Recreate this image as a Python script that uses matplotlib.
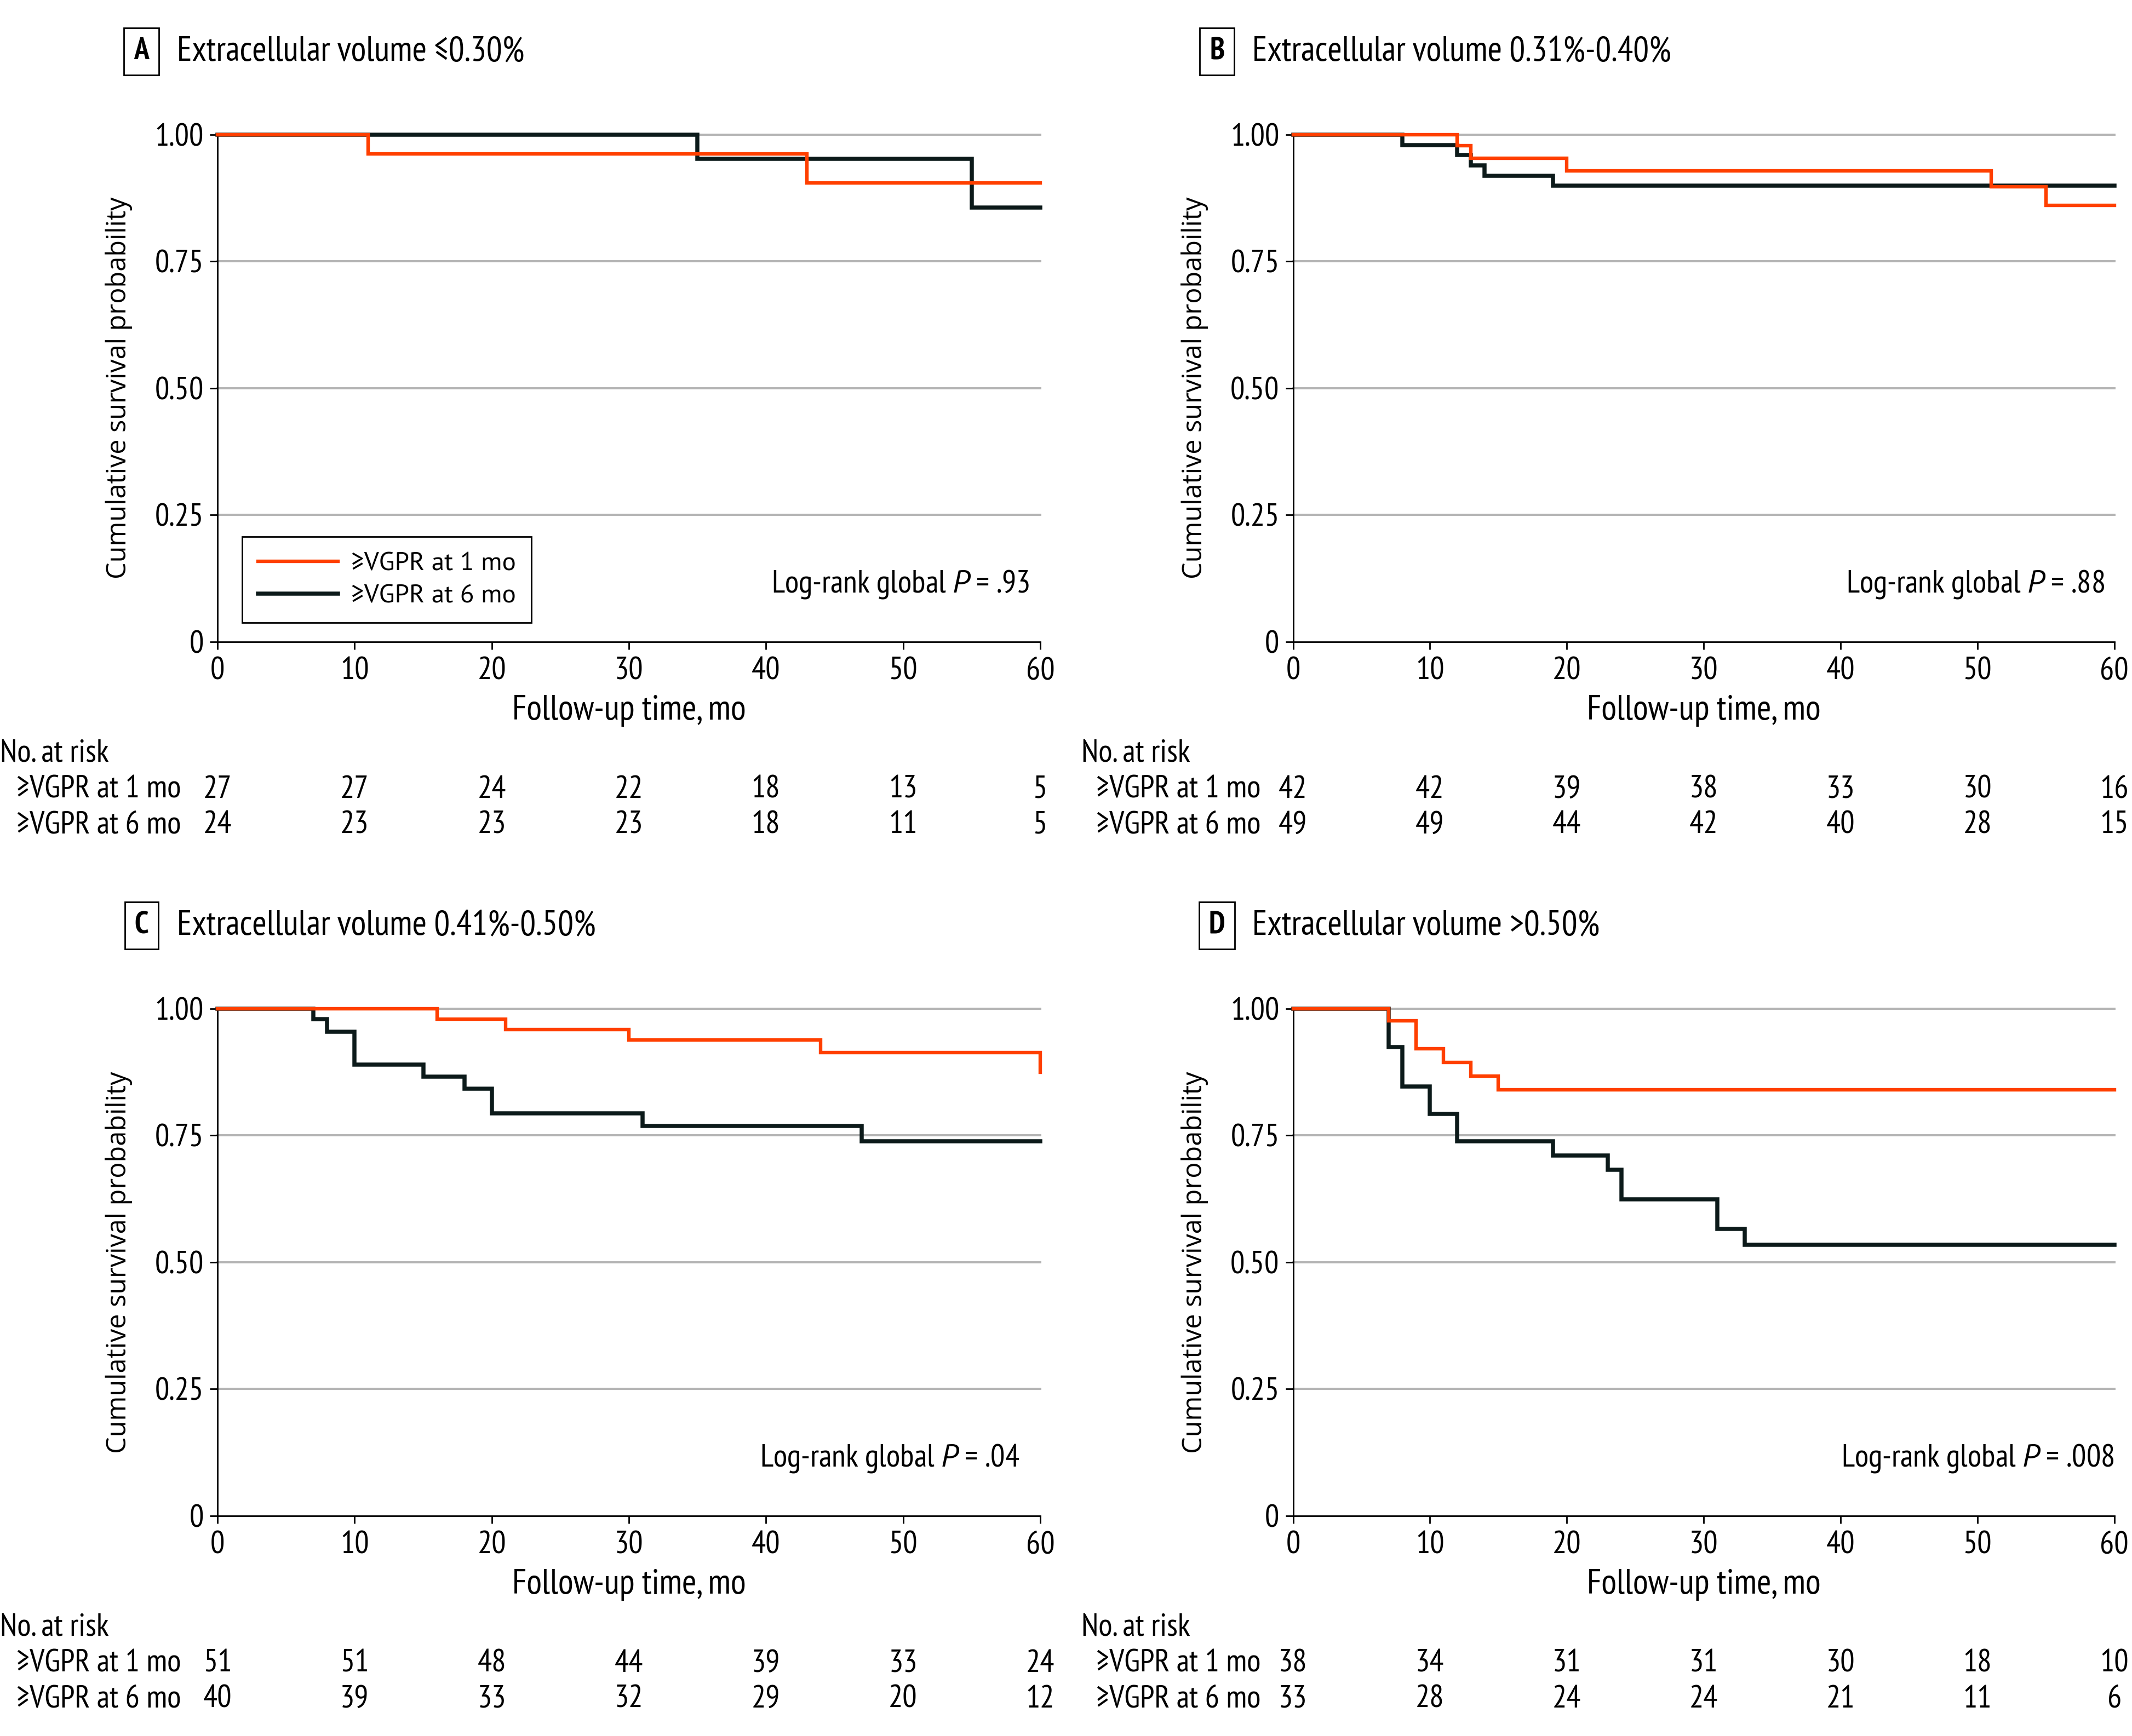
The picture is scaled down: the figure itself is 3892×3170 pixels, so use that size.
import matplotlib
matplotlib.use('Agg')
from matplotlib import pyplot as plt, rcParams

# 글꼴 설정 (좁은 글꼴)
rcParams['font.family'] = ['PT Sans Narrow', 'DejaVu Sans']
rcParams['mathtext.fontset'] = 'custom'
rcParams['mathtext.it'] = 'PT Sans:italic'
rcParams['mathtext.rm'] = 'PT Sans Narrow'

ORANGE = '#ff3f00'
BLACK = '#0c1a1a'

# 패널 정보
panel_letters = ['A', 'B', 'C', 'D']
panel_titles = ['Extracellular volume ≤0.30%', 'Extracellular volume 0.31%-0.40%',
                'Extracellular volume 0.41%-0.50%', 'Extracellular volume >0.50%']
p_values = ['.93', '.88', '.04', '.008']
series_names = ['≥VGPR at 1 mo', '≥VGPR at 6 mo']

# 생존 곡선 (step 시점, 생존확률)
a_1mo_t = [0, 11, 43, 60]
a_1mo_s = [1.0, 0.962, 0.905, 0.905]
a_6mo_t = [0, 35, 55, 60]
a_6mo_s = [1.0, 0.952, 0.856, 0.856]

b_1mo_t = [0, 12, 13, 20, 51, 55, 60]
b_1mo_s = [1.0, 0.978, 0.953, 0.928, 0.897, 0.860, 0.860]
b_6mo_t = [0, 8, 12, 13, 14, 19, 60]
b_6mo_s = [1.0, 0.979, 0.960, 0.939, 0.919, 0.899, 0.899]

c_1mo_t = [0, 16, 21, 30, 44, 60, 60]
c_1mo_s = [1.0, 0.979, 0.959, 0.938, 0.913, 0.875, 0.875]
c_6mo_t = [0, 7, 8, 10, 15, 18, 20, 31, 47, 60]
c_6mo_s = [1.0, 0.979, 0.955, 0.890, 0.866, 0.842, 0.794, 0.769, 0.739, 0.739]

d_1mo_t = [0, 7, 9, 11, 13, 15, 60]
d_1mo_s = [1.0, 0.976, 0.921, 0.894, 0.867, 0.840, 0.840]
d_6mo_t = [0, 7, 8, 10, 12, 19, 23, 24, 31, 33, 60]
d_6mo_s = [1.0, 0.924, 0.847, 0.793, 0.739, 0.711, 0.682, 0.624, 0.566, 0.534, 0.534]

curves = [
    ((a_1mo_t, a_1mo_s), (a_6mo_t, a_6mo_s)),
    ((b_1mo_t, b_1mo_s), (b_6mo_t, b_6mo_s)),
    ((c_1mo_t, c_1mo_s), (c_6mo_t, c_6mo_s)),
    ((d_1mo_t, d_1mo_s), (d_6mo_t, d_6mo_s)),
]

# 위험군 수
risk_times = [0, 10, 20, 30, 40, 50, 60]
risk_a = ([27, 27, 24, 22, 18, 13, 5], [24, 23, 23, 23, 18, 11, 5])
risk_b = ([42, 42, 39, 38, 33, 30, 16], [49, 49, 44, 42, 40, 28, 15])
risk_c = ([51, 51, 48, 44, 39, 33, 24], [40, 39, 33, 32, 29, 20, 12])
risk_d = ([38, 34, 31, 31, 30, 18, 10], [33, 28, 24, 24, 21, 11, 6])
risks = [risk_a, risk_b, risk_c, risk_d]

y_ticks = [0, 0.25, 0.5, 0.75, 1.0]
y_tick_labels = ['0', '0.25', '0.50', '0.75', '1.00']

fig = plt.figure(figsize=(19.46, 15.85), dpi=200)

W, H = 1568, 1277
boxes = [(160, 765, 99, 472), (951, 1555, 99, 472),
         (160, 765, 742, 1115), (951, 1555, 742, 1115)]

for i, (l, r, t, b) in enumerate(boxes):
    ax = fig.add_axes([l / W, 1 - b / H, (r - l) / W, (b - t) / H])
    ax.set_xlim(0, 60)
    ax.set_ylim(0, 1)
    for y in y_ticks[1:]:
        ax.axhline(y, color='#b3b3b3', lw=1.4, zorder=1, clip_on=False)
    colors = [ORANGE, BLACK]
    widths = [2.3, 2.7]
    for k, (tt, ss) in enumerate(curves[i]):
        ax.step(tt, ss, where='post', color=colors[k], lw=widths[k],
                label=series_names[k], zorder=3 + (1 - k), clip_on=False,
                solid_joinstyle='miter')
    for s in ['top', 'right']:
        ax.spines[s].set_visible(False)
    for s in ['left', 'bottom']:
        ax.spines[s].set_linewidth(1.0)
    ax.set_xticks(risk_times)
    ax.set_yticks(y_ticks)
    ax.set_yticklabels(y_tick_labels)
    ax.tick_params(labelsize=21, length=5, width=1.0, pad=4)
    ax.tick_params(axis='x', pad=5)
    ax.set_xlabel('Follow-up time, mo', fontsize=23)
    ax.xaxis.set_label_coords(0.5, -0.105)
    ax.set_ylabel('Cumulative survival probability', fontsize=17.5,
                  family=['Open Sans', 'DejaVu Sans'])
    ax.yaxis.set_label_coords(-0.103, 0.5)

    # 제목
    ax.text(-0.0926, 1.164, panel_letters[i], transform=ax.transAxes,
            fontsize=20, fontweight='bold', ha='center', va='center',
            bbox=dict(boxstyle='square,pad=0.32', fc='white', ec='black', lw=1.0))
    ax.text(-0.0496, 1.164, panel_titles[i], transform=ax.transAxes,
            fontsize=23, ha='left', va='center')

    # log-rank
    px = [0.987, 0.988, 0.975, 1.0][i]
    ax.text(px, 0.113, 'Log-rank global $\\mathit{P}$ = ' + p_values[i],
            transform=ax.transAxes, fontsize=21, ha='right', va='center')

    if i == 0:
        leg = ax.legend(loc='lower left', bbox_to_anchor=(0.03, 0.037),
                        borderaxespad=0, fancybox=False, edgecolor='black',
                        prop={'family': ['PT Sans', 'DejaVu Sans'], 'size': 17},
                        handlelength=3.1, framealpha=1,
                        borderpad=0.6, labelspacing=0.35, handletextpad=0.5)
        leg.get_frame().set_linewidth(1.0)

    # No. at risk
    lx = -0.2645 if i % 2 == 0 else -0.258
    rx = -0.2446 if i % 2 == 0 else -0.240
    trans = ax.get_xaxis_transform()
    ax.text(lx, -0.222, 'No. at risk', transform=ax.transAxes, fontsize=21,
            ha='left', va='center')
    for k in range(2):
        yy = [-0.292, -0.362][k]
        ax.text(rx, yy, series_names[k], transform=ax.transAxes, fontsize=21,
                ha='left', va='center')
        for tx, n in zip(risk_times, risks[i][k]):
            ax.text(tx, yy, str(n), transform=trans, fontsize=21,
                    ha='center', va='center', clip_on=False)

fig.savefig('out.png', dpi=200)
